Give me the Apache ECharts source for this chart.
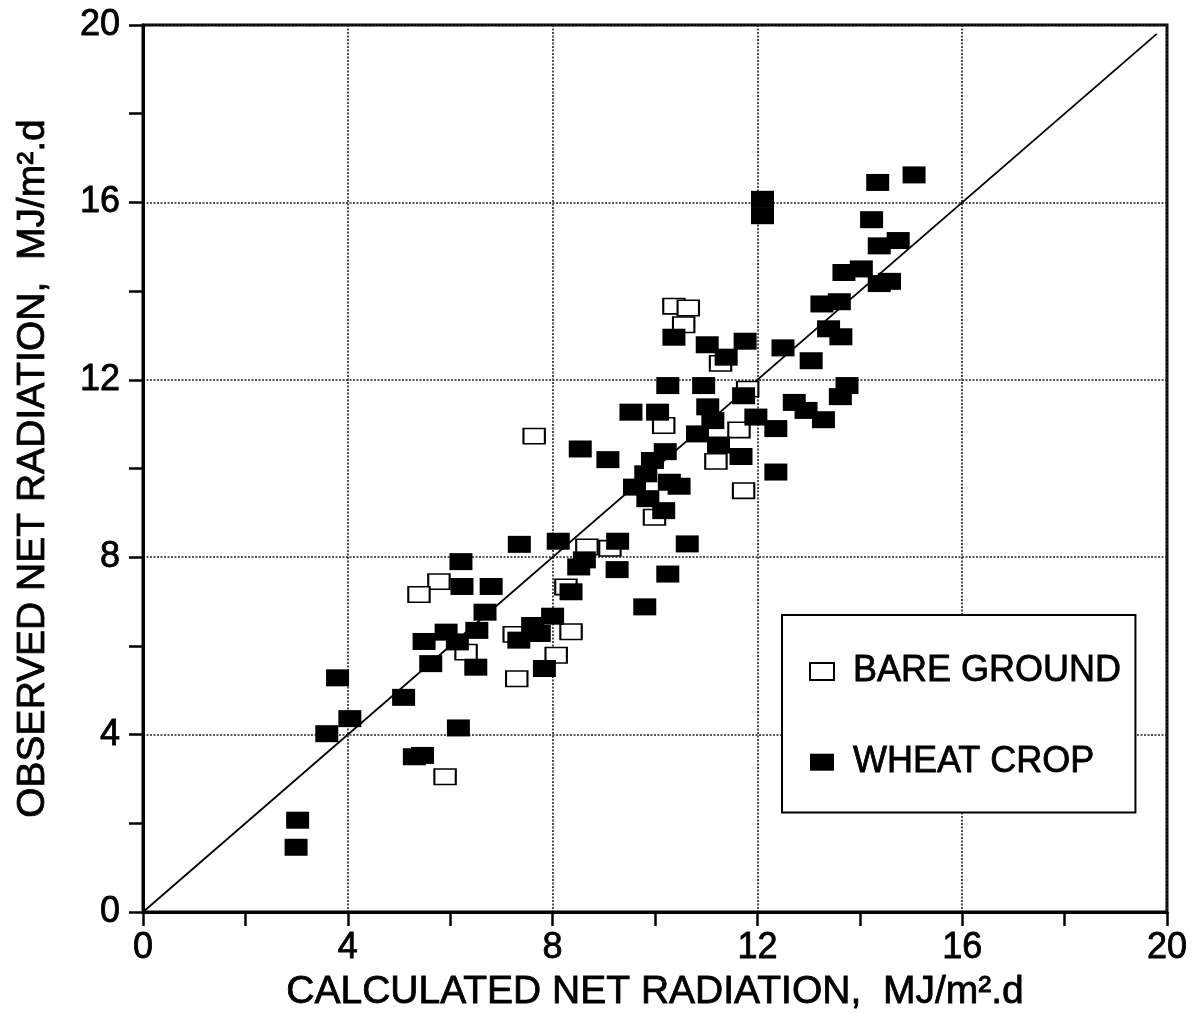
<!DOCTYPE html>
<html>
<head>
<meta charset="utf-8">
<title>Observed vs calculated net radiation</title>
<script src="https://cdn.jsdelivr.net/npm/echarts@6/dist/echarts.min.js"></script>
<style>
  html, body { margin: 0; padding: 0; background: #fff; }
  #chart { width: 1202px; height: 1019px; }
</style>
</head>
<body>
<div id="chart"></div>
<script>
// Bare ground: calculated (x) and observed (y) net radiation, MJ/m².d
const bareCalc = [5.90, 5.78, 5.39, 6.31, 7.30, 7.25, 8.36, 8.07, 8.26, 8.67, 9.12,
                  9.99, 7.64, 10.17, 11.64, 11.19, 11.73, 11.81, 11.28, 10.37, 10.65, 10.56];
const bareObs  = [3.05, 7.45, 7.16, 5.86, 5.26, 6.26, 6.32, 5.79, 7.33, 8.23, 8.20,
                  8.90, 10.73, 10.97, 10.87, 10.16, 9.50, 11.79, 12.37, 13.66, 13.62, 13.24];

// Wheat crop: calculated (x) and observed (y) net radiation, MJ/m².d
const wheatCalc = [3.02, 2.99, 3.59, 4.04, 3.80, 5.09, 5.30, 5.46, 6.16, 5.62,
                   5.49, 5.92, 6.14, 6.52, 6.50, 6.68, 6.80, 6.23, 6.21, 7.35,
                   8.11, 8.62, 8.51, 9.26, 10.25, 8.36, 9.80, 8.00, 7.61, 7.74,
                   7.34, 7.84, 9.27, 10.63, 8.54, 9.08, 9.53, 10.05, 10.20, 9.95,
                   9.82, 9.60, 10.28, 10.47, 9.86, 10.17, 10.83, 11.24, 11.68, 11.97,
                   12.36, 12.36, 11.03, 11.13, 10.25, 10.95, 11.73, 12.72, 12.95, 13.29,
                   13.75, 13.62, 10.37, 11.02, 11.39, 11.76, 12.50, 13.05, 13.26, 13.60,
                   13.39, 13.63, 14.38, 12.10, 12.10, 14.35, 15.06, 14.23, 14.38, 14.75,
                   13.69, 14.03, 14.58];
const wheatObs  = [2.07, 1.46, 4.02, 4.36, 5.28, 4.84, 3.50, 3.53, 4.15, 5.60,
                   6.10, 6.31, 6.09, 6.35, 5.52, 6.76, 7.34, 7.34, 7.90, 8.29,
                   8.36, 7.94, 7.78, 7.72, 7.62, 7.22, 6.88, 6.67, 6.46, 6.28,
                   6.13, 5.49, 8.36, 8.30, 10.44, 10.20, 11.27, 11.27, 10.38, 10.18,
                   9.88, 9.58, 9.69, 9.60, 9.32, 9.05, 10.78, 10.53, 10.27, 11.16,
                   10.90, 9.92, 11.39, 11.08, 11.87, 11.87, 11.64, 11.49, 11.31, 11.10,
                   11.87, 11.62, 12.96, 12.79, 12.51, 12.87, 12.72, 12.43, 13.71, 13.76,
                   13.15, 12.97, 14.17, 16.07, 15.70, 16.45, 16.62, 15.61, 15.02, 15.14,
                   14.42, 14.50, 14.22];

// 1:1 reference line end points
const oneToOne = [0, 19.8];

// Axis tick values (both axes)
const tickValues = [0, 4, 8, 12, 16, 20];

const seriesNames = ['BARE GROUND', 'WHEAT CROP'];
const xTitle = 'CALCULATED NET RADIATION,  MJ/m².d';
const yTitle = 'OBSERVED NET RADIATION,  MJ/m².d';

const FONT = '"Liberation Sans", Arial, Helvetica, sans-serif';

// Shared text look: plain sans with a thin outline for a slightly heavier stroke
function textLook(size) {
  return { fontFamily: FONT, fontSize: size, color: '#000', textBorderColor: '#000', textBorderWidth: 0.8 };
}

function zip(xs, ys) { return xs.map((x, i) => [x, ys[i]]); }

function valueAxis(name, nameGap, labelMargin, extra) {
  return Object.assign({
    type: 'value',
    min: tickValues[0],
    max: tickValues[tickValues.length - 1],
    interval: tickValues[1] - tickValues[0],
    name: name,
    nameLocation: 'middle',
    nameGap: nameGap,
    nameTextStyle: textLook(39),
    axisLine: { show: true, lineStyle: { color: '#000', width: 3 } },
    axisTick: { show: true, inside: false, length: 14, lineStyle: { color: '#000', width: 2.5 } },
    minorTick: { show: true, splitNumber: 2, length: 14, lineStyle: { color: '#000', width: 2.5 } },
    splitLine: { show: true, lineStyle: { color: '#222', width: 1.6, type: [2, 1.5] } },
    axisLabel: Object.assign(textLook(36), { margin: labelMargin })
  }, extra);
}

const chart = echarts.init(document.getElementById('chart'), null, { renderer: 'canvas' });

chart.setOption({
  animation: false,
  backgroundColor: '#fff',
  grid: {
    left: 143, right: 35, top: 25, bottom: 107,
    show: true, borderColor: '#000', borderWidth: 3, backgroundColor: 'transparent'
  },
  xAxis: valueAxis(xTitle, 61, 18, {}),
  yAxis: valueAxis(yTitle, 90, 23, { nameRotate: 90 }),
  legend: {
    orient: 'vertical',
    left: 782,
    top: 615,
    padding: [38, 14, 32, 27],
    itemGap: 54,
    itemWidth: 24,
    itemHeight: 17,
    icon: 'rect',
    backgroundColor: '#fff',
    borderColor: '#000',
    borderWidth: 2,
    borderRadius: 0,
    selectedMode: false,
    textStyle: Object.assign(textLook(36), { padding: [0, 0, 0, 14] }),
    data: seriesNames
  },
  series: [
    {
      name: 'oneToOne',
      type: 'line',
      data: [[oneToOne[0], oneToOne[0]], [oneToOne[1], oneToOne[1]]],
      showSymbol: false,
      symbol: 'none',
      lineStyle: { color: '#000', width: 1.8 },
      silent: true,
      z: 1
    },
    {
      name: seriesNames[0],
      type: 'scatter',
      symbol: 'rect',
      symbolSize: [21.4, 15.4],
      data: zip(bareCalc, bareObs),
      itemStyle: { color: '#fff', borderColor: '#000', borderWidth: 1.8, opacity: 1 },
      z: 2
    },
    {
      name: seriesNames[1],
      type: 'scatter',
      symbol: 'rect',
      symbolSize: [23, 17],
      data: zip(wheatCalc, wheatObs),
      itemStyle: { color: '#000', opacity: 1 },
      z: 3
    }
  ]
});
</script>
</body>
</html>
